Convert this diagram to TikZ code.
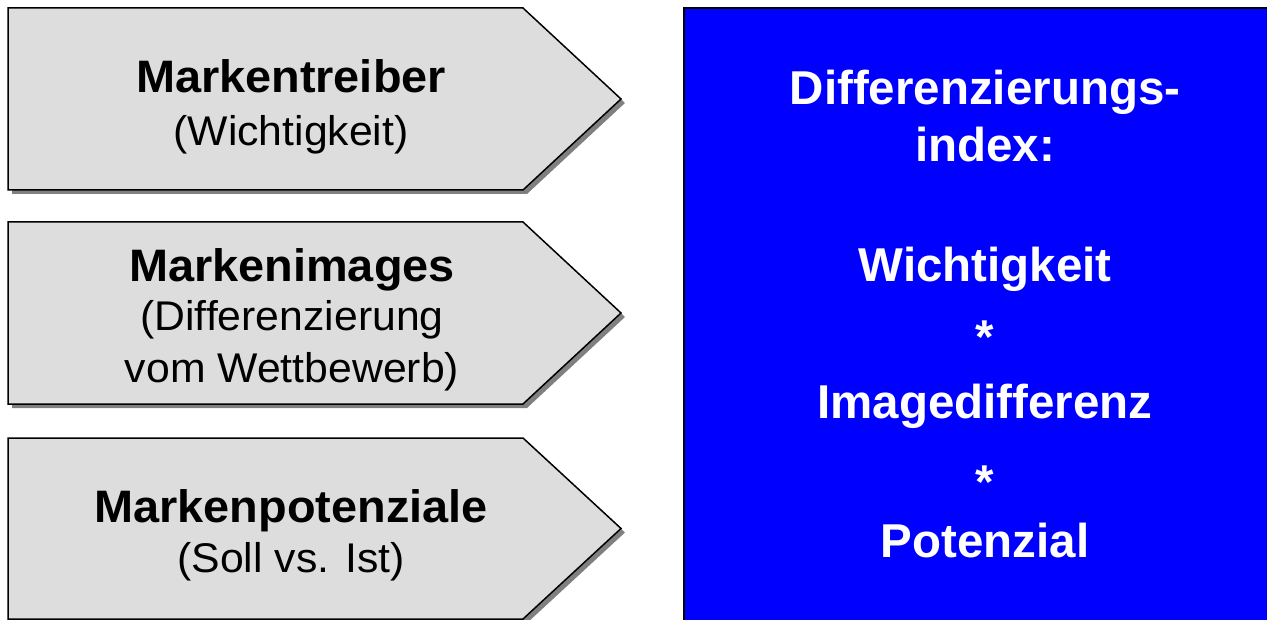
\documentclass[tikz,border=0pt]{standalone}
\usepackage{fontspec}
\setmainfont{Liberation Sans}
\newfontfamily\wideFont{Liberation Sans}[FakeStretch=1.03]
\definecolor{boxgray}{RGB}{221,221,221}
\definecolor{shadowgray}{RGB}{128,128,128}
\definecolor{pureblue}{RGB}{0,0,255}
\begin{document}
\begin{tikzpicture}[x=1pt,y=-1pt,
  arrowshape/.style={fill=boxgray,draw=black,line width=1.5pt,line join=miter},
  shadowshape/.style={fill=shadowgray},
  lbold/.style={font=\wideFont\bfseries\fontsize{45.5}{52}\selectfont,anchor=base,inner sep=0pt},
  lreg/.style={font=\wideFont\fontsize{41.5}{48}\selectfont,anchor=base,inner sep=0pt},
  rbold/.style={font=\bfseries\fontsize{47.5}{54}\selectfont,text=white,anchor=base,inner sep=0pt},
  rstar/.style={font=\bfseries\fontsize{47.5}{54}\selectfont,text=white,anchor=center,inner sep=0pt}]
\useasboundingbox (0,0) rectangle (1267,620);
% arrows
\foreach \t/\b in {8/190,222/404,438/619}{
  \pgfmathsetmacro{\m}{(\t+\b)/2}
  \fill[shadowshape,shift={(4,4)}] (8,\t) -- (523,\t) -- (621,\m) -- (523,\b) -- (8,\b) -- cycle;
  \draw[arrowshape] (8,\t) -- (523,\t) -- (621,\m) -- (523,\b) -- (8,\b) -- cycle;
}
% blue box
\fill[pureblue] (684,8) rectangle (1275,630);
\draw[line width=2.5pt] (684,630) -- (684,8) -- (1275,8);
% left texts
\node[lbold] (t1a) at (291,93) {Markentreiber};
\node[lreg]  (t1b) at (291,146) {(Wichtigkeit)};
\node[lbold] (t2a) at (292,282) {Markenimages};
\node[lreg]  (t2b) at (292,331) {(Differenzierung};
\node[lreg]  (t2c) at (292,382) {vom Wettbewerb)};
\node[lbold] (t3a) at (291,522) {Markenpotenziale};
\node[lreg]  (t3b) at (291,572) {(Soll vs. Ist)};
% right texts
\node[rbold] (r1) at (985,105) {Differenzierungs-};
\node[rbold] (r2) at (985,162) {index:};
\node[rbold] (r3) at (985,282) {Wichtigkeit};
\node[rstar] (r4) at (985,337) {*};
\node[rbold] (r5) at (985,418) {Imagedifferenz};
\node[rstar] (r6) at (985,482) {*};
\node[rbold] (r7) at (985,557) {Potenzial};
\end{tikzpicture}
\end{document}
